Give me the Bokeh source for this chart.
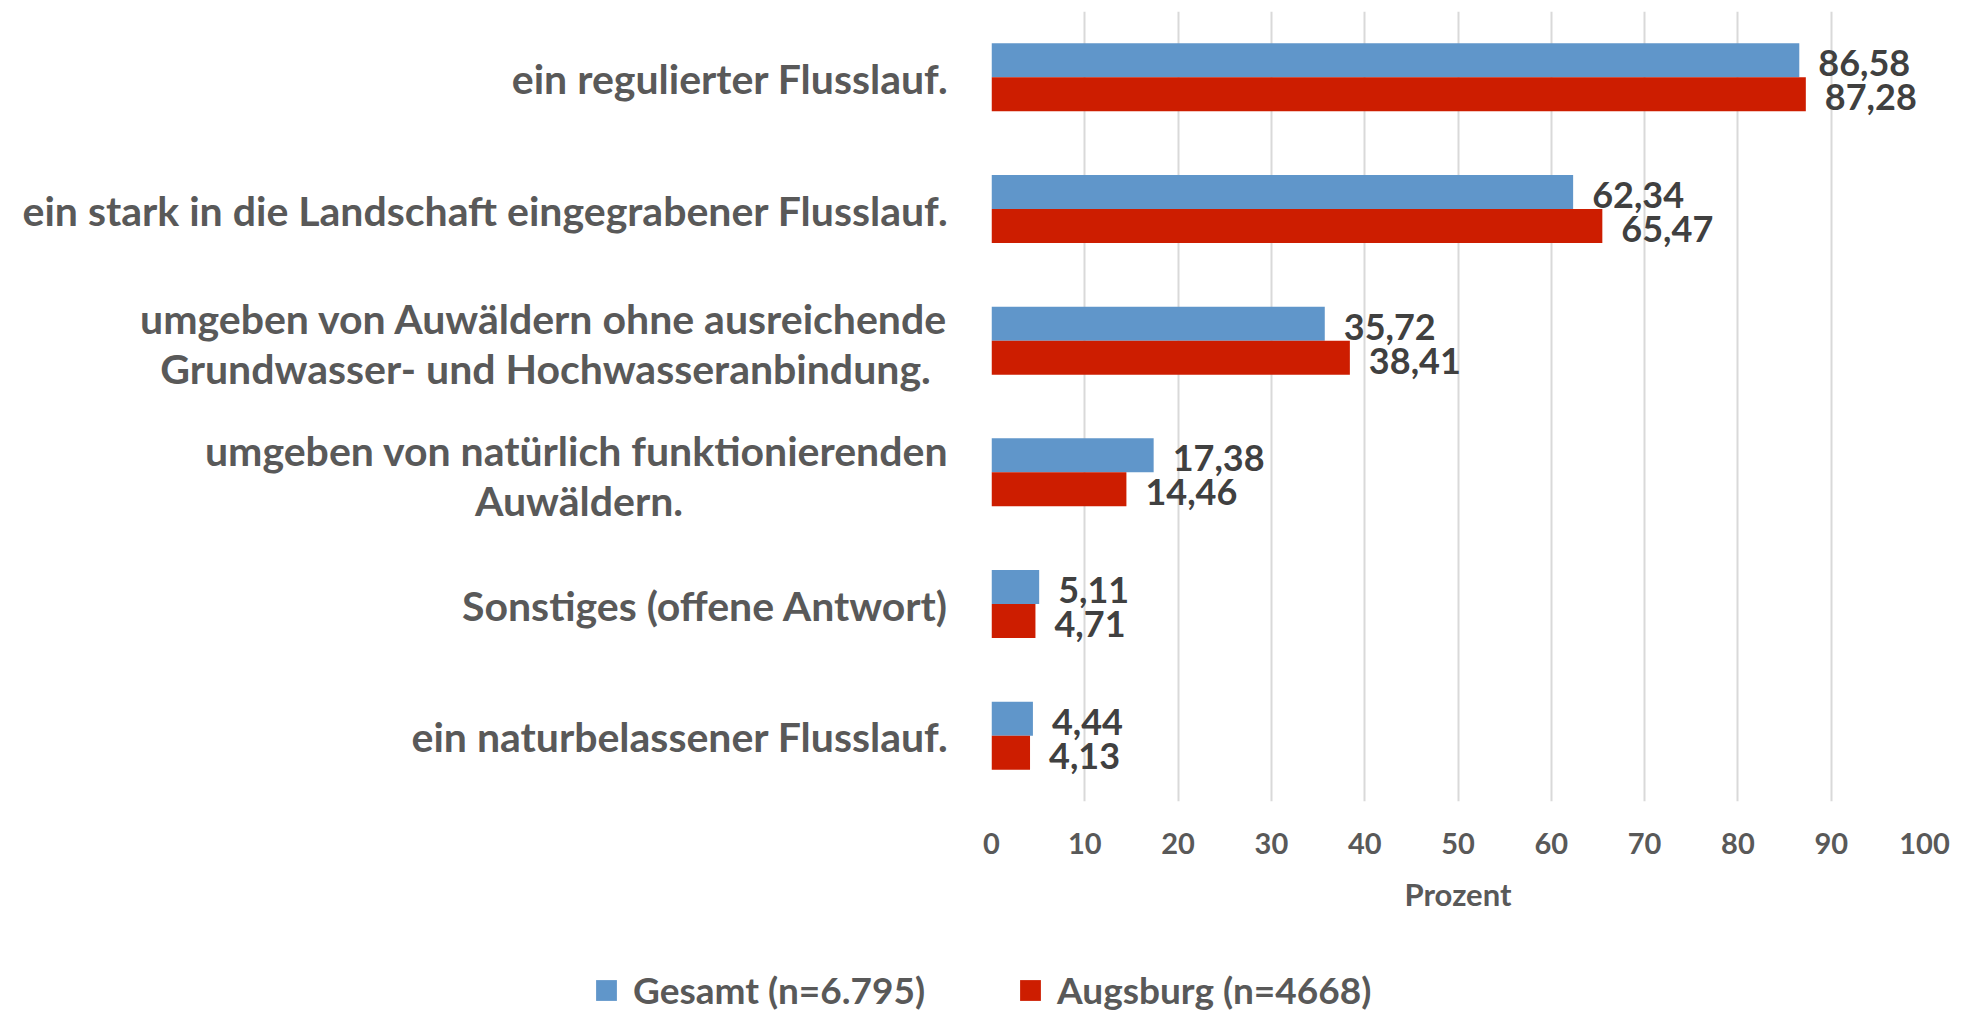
from bokeh.plotting import figure
from bokeh.models import (FactorRange, Range1d, ColumnDataSource, Legend,
                          LegendItem, FixedTicker)
from bokeh.layouts import column, row
from bokeh.transform import dodge
from bokeh.core.properties import value
from bokeh.embed import file_html
from bokeh.resources import INLINE

# ---------------- data ----------------
categories = [
    "ein regulierter Flusslauf.",
    "ein stark in die Landschaft eingegrabener Flusslauf.",
    "umgeben von Auwäldern ohne ausreichende\nGrundwasser- und Hochwasseranbindung.",
    "umgeben von natürlich funktionierenden\nAuwäldern.",
    "Sonstiges (offene Antwort)",
    "ein naturbelassener Flusslauf.",
]
gesamt = [86.58, 62.34, 35.72, 17.38, 5.11, 4.44]
augsburg = [87.28, 65.47, 38.41, 14.46, 4.71, 4.13]
series_names = ["Gesamt (n=6.795)", "Augsburg (n=4668)"]
x_ticks = [0, 10, 20, 30, 40, 50, 60, 70, 80, 90, 100]
x_title = "Prozent"

# ---------------- style ----------------
FONT = "Lato"
BLUE = "#6096CA"
RED = "#CD1D00"
GREY = "#595959"
DARK = "#404040"
TOTAL_W, TOTAL_H = 1970, 1013
AXIS_X = 991             # page x of the value axis origin
MAIN_PAD = 30            # left border of the main chart (room for the "0" label)
LABEL_W = AXIS_X - MAIN_PAD
LEGEND_H = 78
MAIN_H = TOTAL_H - LEGEND_H
TOP, BOTTOM = 11, MAIN_H - 801
BAR_H = 0.258
DODGE = 0.129
LABEL_GAP = 43 - MAIN_PAD    # px from label column edge to label text
CAT_FONT = "41px"
LINE1_WIDTH = {2: 806, 3: 739}   # approx. rendered width of first line of 2-line labels


def fmt(v):
    return f"{v:.2f}".replace(".", ",")


src = ColumnDataSource(dict(
    cat=categories,
    gesamt=gesamt,
    augsburg=augsburg,
    g_lab=[fmt(v) for v in gesamt],
    a_lab=[fmt(v) for v in augsburg],
))

# ---------------- main chart ----------------
p = figure(width=TOTAL_W - LABEL_W, height=MAIN_H,
           y_range=FactorRange(*reversed(categories)),
           x_range=Range1d(0, 100),
           output_backend="svg", toolbar_location=None,
           y_axis_location=None,
           min_border_left=MAIN_PAD, min_border_right=46,
           min_border_top=TOP, min_border_bottom=BOTTOM)
p.y_range.range_padding = 0
p.outline_line_color = None
p.background_fill_color = "white"
p.border_fill_color = "white"

p.ygrid.grid_line_color = None
p.xgrid.ticker = FixedTicker(ticks=x_ticks)
p.xgrid.grid_line_color = "#D9D9D9"
p.xgrid.grid_line_width = 2

xa = p.xaxis[0]
xa.ticker = FixedTicker(ticks=x_ticks)
xa.axis_line_color = None
xa.major_tick_line_color = None
xa.minor_tick_line_color = None
xa.major_label_standoff = 25
xa.major_label_text_font = FONT
xa.major_label_text_font_style = "bold"
xa.major_label_text_font_size = "29px"
xa.major_label_text_color = GREY
xa.axis_label = x_title
xa.axis_label_standoff = 18
xa.axis_label_text_font = FONT
xa.axis_label_text_font_style = "bold"
xa.axis_label_text_font_size = "31px"
xa.axis_label_text_color = GREY

p.hbar(y=dodge("cat", DODGE, range=p.y_range), left=0, right="gesamt",
       height=BAR_H, fill_color=BLUE, line_color=None, source=src)
p.hbar(y=dodge("cat", -DODGE, range=p.y_range), left=0, right="augsburg",
       height=BAR_H, fill_color=RED, line_color=None, source=src)

for col, lab, off in (("gesamt", "g_lab", DODGE), ("augsburg", "a_lab", -DODGE)):
    p.text(x=col, y=dodge("cat", off, range=p.y_range), text=lab, source=src,
           x_offset=19, y_offset=3, text_align="left", text_baseline="middle",
           text_font=value(FONT), text_font_style="bold", text_font_size="36px",
           text_color=DARK)

# ---------------- category label column (shares the y scale) ----------------
lp = figure(width=LABEL_W, height=MAIN_H, y_range=p.y_range,
            x_range=Range1d(0, 1), output_backend="svg", toolbar_location=None,
            x_axis_location=None, y_axis_location=None,
            min_border_left=0, min_border_right=0,
            min_border_top=TOP, min_border_bottom=BOTTOM)
lp.outline_line_color = None
lp.grid.visible = False

right_rows = dict(x=[], y=[], t=[], yo=[])
center_rows = dict(x=[], y=[], t=[], xo=[], yo=[])
for i, c in enumerate(categories):
    lines = c.split("\n")
    right_rows["x"].append(1)
    right_rows["y"].append(c)
    right_rows["t"].append(lines[0])
    if len(lines) == 1:
        right_rows["yo"].append(1)
    else:
        right_rows["yo"].append(-22)
        center_rows["x"].append(1)
        center_rows["y"].append(c)
        center_rows["t"].append(lines[1])
        center_rows["xo"].append(-(LABEL_GAP + LINE1_WIDTH[i] / 2))
        center_rows["yo"].append(28)

lp.text(x="x", y="y", text="t", y_offset="yo", x_offset=-LABEL_GAP,
        source=ColumnDataSource(right_rows), text_align="right",
        text_baseline="middle", text_font=value(FONT), text_font_style="bold",
        text_font_size=CAT_FONT, text_color=GREY)
lp.text(x="x", y="y", text="t", y_offset="yo", x_offset="xo",
        source=ColumnDataSource(center_rows), text_align="center",
        text_baseline="middle", text_font=value(FONT), text_font_style="bold",
        text_font_size=CAT_FONT, text_color=GREY)

# ---------------- legend strip ----------------
# legend keys: same series drawn outside the (empty) visible range of this strip
lg = figure(width=TOTAL_W, height=LEGEND_H, x_range=Range1d(-1, 0),
            y_range=Range1d(0, 1), output_backend="svg", toolbar_location=None,
            x_axis_location=None, y_axis_location=None,
            min_border=0)
lg.outline_line_color = None
lg.grid.visible = False
k1 = lg.hbar(y=0.5, left=1, right="gesamt", height=1, fill_color=BLUE,
             line_color=None, source=src)
k2 = lg.hbar(y=0.5, left=1, right="augsburg", height=1, fill_color=RED,
             line_color=None, source=src)
legend = Legend(items=[LegendItem(label=series_names[0], renderers=[k1]),
                       LegendItem(label=series_names[1], renderers=[k2])],
                orientation="horizontal", location=(593, 1),
                glyph_width=26, glyph_height=26, label_standoff=14, spacing=92,
                padding=0, margin=0, border_line_color=None,
                background_fill_alpha=0,
                label_text_font=FONT, label_text_font_style="bold",
                label_text_font_size="37px", label_text_color=GREY)
lg.add_layout(legend, "center")

layout = column(row(lp, p), lg)
open("out.html", "w").write(file_html(layout, INLINE))
